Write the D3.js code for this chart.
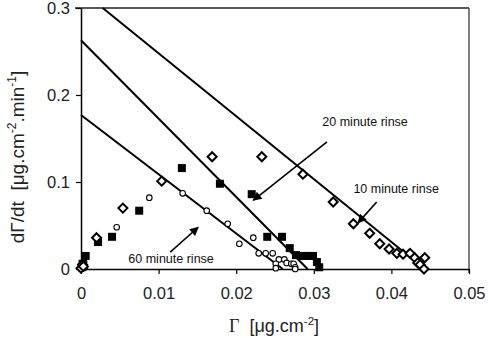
<!DOCTYPE html>
<html>
<head>
<meta charset="utf-8">
<script src="https://cdn.jsdelivr.net/npm/d3@7"></script>
<style>
  body { margin: 0; background: #fff; }
  svg { font-family: Arial, "Liberation Sans", sans-serif; }
</style>
</head>
<body>
<svg id="chart" width="488" height="338"></svg>
<script>
// 10 minute rinse (open diamonds)
let rinse10 = [
  [0, 0.001], [0.0002, 0.005], [0.0003, 0.003],
  [0.0020, 0.036], [0.0054, 0.070], [0.0104, 0.101], [0.0169, 0.129],
  [0.0233, 0.129], [0.0286, 0.109], [0.0325, 0.077], [0.0351, 0.052],
  [0.0372, 0.041], [0.0385, 0.029], [0.0397, 0.023], [0.0407, 0.018],
  [0.0415, 0.017], [0.0424, 0.018], [0.0430, 0.013], [0.0434, 0.007],
  [0.0437, 0.005], [0.0443, 0.013], [0.0442, 0.0]
]
// 20 minute rinse (filled squares)
let rinse20 = [
  [0.0001, 0.002], [0.0002, 0.006], [0.0006, 0.015], [0.0022, 0.031],
  [0.0040, 0.037], [0.0075, 0.067], [0.0130, 0.116], [0.0179, 0.098],
  [0.0220, 0.086], [0.0240, 0.037], [0.0259, 0.037], [0.0269, 0.024],
  [0.0277, 0.016], [0.0285, 0.015], [0.0293, 0.015], [0.0299, 0.015],
  [0.0304, 0.008], [0.0307, 0.002]
]
// 60 minute rinse (open circles)
let rinse60 = [
  [0.0002, 0.004], [0.0004, 0.008], [0.0005, 0.002],
  [0.0046, 0.048], [0.0088, 0.082], [0.0131, 0.087], [0.0162, 0.067],
  [0.0189, 0.052], [0.0204, 0.029], [0.0222, 0.036], [0.0229, 0.018],
  [0.0238, 0.018], [0.0247, 0.018], [0.0255, 0.011], [0.0262, 0.011],
  [0.0265, 0.007], [0.0271, 0.006], [0.0274, 0.006], [0.0251, 0.006],
  [0.0251, 0.001], [0.0276, 0.002], [0.0276, 0.0]
]
// fitted lines: [x start, y start, x end, y end]
let fitLines = [
  [0.0028, 0.3, 0.0443, 0],
  [0, 0.263, 0.0292, 0],
  [0, 0.177, 0.0260, 0]
]
let xTicks = [0, 0.01, 0.02, 0.03, 0.04, 0.05]
let yTicks = [0, 0.1, 0.2, 0.3]
// labels: text, text x, text y, arrow from x,y, arrow to x,y
let labels = [
  ["20 minute rinse", 0.0311, 0.164, 0.0317, 0.146, 0.0222, 0.079],
  ["10 minute rinse", 0.0351, 0.087, 0.0381, 0.077, 0.0357, 0.053],
  ["60 minute rinse", 0.0061, 0.007, 0.0115, 0.0195, 0.0151, 0.048]
]

let svg = d3.select("#chart")
let x = d3.scaleLinear().domain([0, 0.05]).range([81, 469])
let y = d3.scaleLinear().domain([0, 0.3]).range([269, 8])

svg.append("defs").append("marker")
  .attr("id", "arrow")
  .attr("viewBox", "0 0 10 10")
  .attr("refX", 9).attr("refY", 5)
  .attr("markerWidth", 10).attr("markerHeight", 9)
  .attr("markerUnits", "userSpaceOnUse")
  .attr("orient", "auto")
  .append("path").attr("d", "M0,0L10,5L0,10z").attr("fill", "#000")

// frame
svg.append("line").attr("x1", 75).attr("x2", x(0.05)).attr("y1", y(0.3)).attr("y2", y(0.3))
  .attr("stroke", "#222").attr("stroke-width", 1.5)
svg.append("line").attr("x1", x(0.05)).attr("x2", x(0.05)).attr("y1", y(0.3)).attr("y2", y(0) + 4)
  .attr("stroke", "#555").attr("stroke-width", 1.5)

let xAxis = svg.append("g").attr("transform", "translate(0," + y(0) + ")")
  .call(d3.axisBottom(x).tickValues(xTicks).tickSize(5).tickSizeOuter(0).tickFormat(d => d === 0 ? "0" : d3.format(".2f")(d)))
let yAxis = svg.append("g").attr("transform", "translate(" + x(0) + ",0)")
  .call(d3.axisLeft(y).tickValues(yTicks).tickSize(5).tickSizeOuter(0).tickFormat(d => d === 0 ? "0" : d3.format(".1f")(d)))
;[xAxis, yAxis].forEach(function(a){
  a.select(".domain").attr("stroke", "#000").attr("stroke-width", 1.5)
  a.selectAll(".tick line").attr("stroke", "#000").attr("stroke-width", 1.2)
  a.selectAll(".tick text").attr("font-size", 16.5).attr("font-family", "Arial, 'Liberation Sans', sans-serif").attr("fill", "#222")
})
xAxis.selectAll(".tick text").attr("dy", "0.71em").attr("y", 18)
yAxis.selectAll(".tick text").attr("x", -11)

// fitted lines
svg.append("g").selectAll("line").data(fitLines).join("line")
  .attr("x1", d => x(d[0])).attr("y1", d => y(d[1]))
  .attr("x2", d => x(d[2])).attr("y2", d => y(d[3]))
  .attr("stroke", "#000").attr("stroke-width", 2)

// points
svg.append("g").selectAll("circle").data(rinse60).join("circle")
  .attr("cx", d => x(d[0])).attr("cy", d => y(d[1])).attr("r", 2.8)
  .attr("fill", "#fff").attr("stroke", "#000").attr("stroke-width", 1.1)
svg.append("g").selectAll("rect").data(rinse20).join("rect")
  .attr("x", d => x(d[0]) - 4).attr("y", d => y(d[1]) - 4)
  .attr("width", 8).attr("height", 8).attr("fill", "#000")
svg.append("g").selectAll("path").data(rinse10).join("path")
  .attr("transform", d => "translate(" + x(d[0]) + "," + y(d[1]) + ")")
  .attr("d", "M0,-4.5L4.5,0L0,4.5L-4.5,0Z")
  .attr("fill", "#fff").attr("stroke", "#000").attr("stroke-width", 2)

// annotations
let ann = svg.append("g")
labels.forEach(function(l){
  let t = ann.append("text").attr("x", x(l[1])).attr("y", y(l[2]))
    .attr("font-size", 12.5).attr("fill", "#111").text(l[0])
  if (l[0].startsWith("60")) {
    let b = t.node().getBBox()
    ann.insert("rect", "text").attr("x", b.x - 2).attr("y", b.y).attr("width", b.width + 4).attr("height", b.height)
      .attr("fill", "#fff")
  }
  ann.append("line").attr("x1", x(l[3])).attr("y1", y(l[4])).attr("x2", x(l[5])).attr("y2", y(l[6]))
    .attr("stroke", "#000").attr("stroke-width", 1.6).attr("marker-end", "url(#arrow)")
})

// axis titles
let xt = svg.append("text").attr("x", 229).attr("y", 332).attr("font-size", 18).attr("fill", "#222")
xt.append("tspan").attr("font-family", "'Liberation Serif', 'Times New Roman', serif").text("Γ")
xt.append("tspan").attr("dx", 10).text("[μg.cm")
xt.append("tspan").attr("font-size", 11.5).attr("dy", -7).text("-2")
xt.append("tspan").attr("dy", 7).text("]")

let yt = svg.append("text").attr("transform", "translate(24,157) rotate(-90)")
  .attr("text-anchor", "middle").attr("font-size", 19).attr("fill", "#222")
yt.append("tspan").text("dΓ/dt\u00a0\u00a0[μg.cm")
yt.append("tspan").attr("font-size", 12).attr("dy", -8).text("-2")
yt.append("tspan").attr("dy", 8).text(".min")
yt.append("tspan").attr("font-size", 12).attr("dy", -8).text("-1")
yt.append("tspan").attr("dy", 8).text("]")
</script>
</body>
</html>
